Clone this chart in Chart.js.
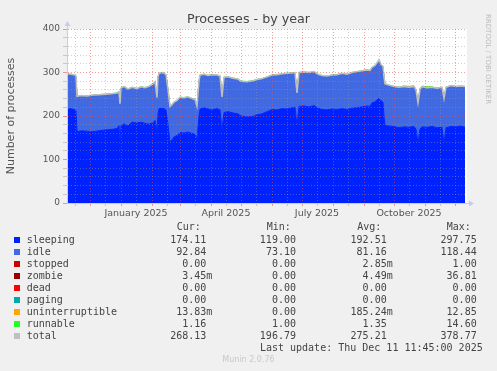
<!DOCTYPE html>
<html><head><meta charset="utf-8">
<script src="https://cdn.jsdelivr.net/npm/chart.js@4.4.1/dist/chart.umd.min.js"></script>
<style>
html,body{margin:0;padding:0;background:#f0f0f0;}
#wrap{position:relative;width:497px;height:371px;overflow:hidden;background:#f0f0f0;}
#c{position:absolute;left:0;top:0;}
.t{position:absolute;font-family:'DejaVu Sans Mono',monospace;font-size:10px;line-height:12px;color:#444;white-space:pre;}
.sq{position:absolute;width:6px;height:6px;}
</style></head><body>
<div id="wrap"><canvas id="c" width="497" height="371"></canvas></div>
<script>
// x values: days since 8 Nov 2024
const days = [
  0,4,8,9,10,14,20,26,32,38,
  44,50,52,53,54,57,61,65,70,74,
  78,82,86,88,90,91,92,96,99,101,
  103,105,107,110,113,117,121,125,128,130,
  132,133,137,141,145,150,153,155,157,161,
  166,171,174,180,186,190,195,200,205,210,
  215,220,225,228,230,232,237,242,247,251,
  255,260,265,270,275,280,285,290,295,300,
  303,305,308,310,312,314,316,317,318,322,
  327,332,337,342,347,349,351,353,355,360,
  365,370,375,377,379,384,389,394,398
];
const sleeping = [
  215,217,214,213,164,166,165,164,166,168,
  169,171,178,145,178,182,177,186,184,186,
  183,181,185,190,168,205,217,218,214,180,
  140,145,152,155,162,161,163,160,158,146,
  200,216,219,216,214,217,214,168,208,210,
  207,205,200,198,199,203,205,210,215,214,
  217,216,219,220,179,222,223,221,224,218,
  215,214,216,215,217,215,218,219,221,223,
  222,230,233,237,241,235,232,200,178,177,
  176,173,175,174,176,170,138,170,175,174,
  176,173,174,138,173,176,175,177,174
];
const idle = [
  81,78,79,78,80,80,80,83,82,81,
  81,81,77,82,85,85,84,79,78,80,
  81,86,88,88,73,84,80,81,80,79,
  81,80,79,80,80,80,80,79,79,75,
  79,77,76,76,80,76,77,75,80,79,
  79,79,79,80,81,80,80,79,78,80,
  79,81,79,79,73,77,77,78,77,77,
  77,77,77,79,80,80,81,82,82,82,
  82,81,82,84,87,82,81,89,95,93,
  91,92,92,91,91,89,91,91,91,90,
  89,90,91,101,92,93,92,91,93
];
const uninterruptible = [
  0,0,0,0,0,0,0,0,0,0,
  0,0,0,0,0,0,0,0,0,0,
  0,0,0,0,0,0,0,0,0,0,
  0,0,0,0,0,0,0,0,0,0,
  0,0,0,0,0,0,0,0,0,0,
  0,0,0,0,0,0,0,0,0,0,
  0,0,0,0,0,0,0,0,0,0,
  0,0,0,0,0,0,0,0,0,0,
  0,0,0,0,0,0,0,0,0,0,
  0,0.3,1.0,2.0,1.2,0.5,0.3,0.8,1.5,2.0,
  1.0,0.3,0,0,0,0,0,0,0
];
const runnable = [
  1.3,1.2,1.2,1.3,1.4,1.2,1.3,1.2,1.3,1.4,
  1.3,1.2,1.5,1.3,1.4,1.3,1.2,1.3,1.4,1.3,
  1.5,1.3,1.4,1.3,1.2,1.4,1.5,1.4,1.3,1.2,
  1.3,1.4,1.3,1.2,1.3,1.4,1.3,1.2,1.3,1.4,
  1.3,1.4,1.5,1.3,1.2,1.3,1.4,1.3,1.2,1.3,
  1.4,1.3,1.2,1.3,1.4,1.3,1.2,1.4,1.3,1.5,
  1.4,1.3,1.2,1.3,1.4,1.3,1.5,1.3,1.4,1.3,
  1.2,1.3,1.4,1.3,1.2,1.3,1.4,1.5,1.3,1.4,
  1.3,1.4,1.5,1.6,1.4,1.3,1.2,1.3,1.2,1.3,
  1.2,1.3,1.2,1.2,1.3,1.2,1.1,1.2,1.2,1.3,
  1.2,1.1,1.2,1.2,1.3,1.2,1.2,1.1,1.16
];
const total = [
  297,296,294,292,245,247,246,248,249,250,
  251,253,256,228,264,268,262,266,263,267,
  265,268,274,279,242,290,298,300,295,260,
  222,226,232,236,243,242,244,240,238,222,
  280,294,296,293,295,294,292,244,289,290,
  287,285,280,279,281,284,286,290,294,295,
  297,298,299,300,253,300,301,300,302,296,
  293,292,294,295,298,296,300,302,304,306,
  305,312,316,322,329,318,314,290,274,271,
  268,266,268,266,268,260,230,262,267,265,
  266,264,266,240,266,270,268,269,268
];
// axis ticks (days since 8 Nov 2024)
const monthStartDays = [23,54,85,113,144,174,205,235,266,297,327,358,388];
const midMonthDays = [8,38,69,100,128,159,189,220,250,281,312,342,373];
const monthLabelDays = [69,159,250,342];
const monthLabels = ['January 2025','April 2025','July 2025','October 2025'];
const yMajorStep = 100;
// legend table
const legendNames = ['sleeping','idle','stopped','zombie','dead','paging','uninterruptible','runnable','total'];
const legendColors = ['#0022ff','#4169e1','#cc0000','#990000','#ff0000','#00aaaa','#ffa500','#22ff22','#c0c0c0'];
const curVals = ['174.11 ','92.84 ','0.00 ','3.45m','0.00 ','0.00 ','13.83m','1.16 ','268.13 '];
const minVals = ['119.00 ','73.10 ','0.00 ','0.00 ','0.00 ','0.00 ','0.00 ','1.00 ','196.79 '];
const avgVals = ['192.51 ','81.16 ','2.85m','4.49m','0.00 ','0.00 ','185.24m','1.35 ','275.21 '];
const maxVals = ['297.75 ','118.44 ','1.00 ','36.81 ','0.00 ','0.00 ','12.85 ','14.60 ','378.77 '];

Chart.defaults.font.family = "'DejaVu Sans', sans-serif";
const RED = 'rgba(228,80,80,0.55)';
const GRAY = 'rgba(150,150,150,0.45)';
const AXIS = '#c4ccf4';

const pts = arr => days.map((d, i) => ({x: d, y: arr[i]}));
const allXTicks = monthStartDays.concat(midMonthDays).sort((a, b) => a - b);

const bgPlugin = {
  id: 'bg',
  beforeDraw(chart) {
    const {ctx, chartArea: a} = chart;
    ctx.save();
    ctx.fillStyle = '#ffffff';
    ctx.fillRect(a.left, a.top, a.right - a.left, a.bottom - a.top);
    ctx.restore();
  },
  afterDraw(chart) {
    const {ctx, chartArea: a} = chart;
    ctx.save();
    ctx.strokeStyle = AXIS; ctx.fillStyle = AXIS; ctx.lineWidth = 1;
    ctx.beginPath(); ctx.moveTo(a.left + 0.5, a.top); ctx.lineTo(a.left + 0.5, a.top - 4); ctx.stroke();
    ctx.beginPath(); ctx.moveTo(a.left + 0.5, a.top - 8); ctx.lineTo(a.left - 2.5, a.top - 3); ctx.lineTo(a.left + 3.5, a.top - 3); ctx.closePath(); ctx.fill();
    ctx.beginPath(); ctx.moveTo(a.right, a.bottom + 0.5); ctx.lineTo(a.right + 2, a.bottom + 0.5); ctx.stroke();
    ctx.beginPath(); ctx.moveTo(a.right + 7, a.bottom + 0.5); ctx.lineTo(a.right + 2, a.bottom - 2.5); ctx.lineTo(a.right + 2, a.bottom + 3.5); ctx.closePath(); ctx.fill();
    ctx.restore();
  }
};

const area = (label, arr, color, fill) => ({
  label, data: pts(arr), backgroundColor: color, borderColor: color,
  borderWidth: 1, fill, pointRadius: 0, tension: 0
});

new Chart(document.getElementById('c'), {
  type: 'line',
  data: {
    datasets: [
      area('sleeping', sleeping, '#0022ff', 'origin'),
      area('idle', idle, '#4169e1', '-1'),
      area('uninterruptible', uninterruptible, '#ffa500', '-1'),
      area('runnable', runnable, '#22ff22', '-1'),
      {label: 'total', data: pts(total), stack: 'tot', order: -1, borderColor: '#c0c0c0',
       borderWidth: 1.5, fill: false, pointRadius: 0, tension: 0}
    ]
  },
  options: {
    responsive: false, animation: false,
    layout: {padding: {left: 0, right: 30, top: 29, bottom: 148}},
    plugins: {legend: {display: false}, tooltip: {enabled: false}, title: {display: false}},
    scales: {
      x: {
        type: 'linear', min: 0, max: 400,
        afterBuildTicks: s => { s.ticks = allXTicks.map(v => ({value: v})); },
        afterFit: s => { s.height = 20; },
        ticks: {autoSkip: false, maxRotation: 0, padding: 2, color: '#555', font: {size: 9.5},
                callback: v => { const k = monthLabelDays.indexOf(v); return k >= 0 ? monthLabels[k] : ''; }},
        grid: {z: 1, tickLength: 3, color: c => (c.tick && monthStartDays.includes(c.tick.value)) ? RED : GRAY},
        border: {z: 2, color: AXIS, dash: [1, 2]}
      },
      y: {
        stacked: true, min: 0, max: 400,
        afterFit: s => { s.width = 67; },
        ticks: {stepSize: 20, autoSkip: false, padding: 3, color: '#555', font: {size: 9},
                callback: v => (v % yMajorStep === 0 ? v : '')},
        grid: {z: 1, tickLength: 4, color: c => (c.tick && c.tick.value % yMajorStep === 0) ? RED : GRAY},
        border: {z: 2, color: AXIS, dash: [1, 2]},
        title: {display: true, text: 'Number of processes', color: '#555', font: {size: 11}, padding: {top: 4.4, bottom: 0}}
      }
    }
  },
  plugins: [bgPlugin]
});

// title, legend and comments as HTML text
const wrap = document.getElementById('wrap');
function put(text, style, cls) {
  const d = document.createElement('div');
  d.className = cls || 't';
  d.textContent = text;
  Object.assign(d.style, style);
  wrap.appendChild(d);
  return d;
}
put('Processes - by year', {left: '0px', width: '497px', textAlign: 'center', top: '11px',
  fontFamily: "'DejaVu Sans', sans-serif", fontSize: '12.7px', lineHeight: '15px', color: '#444'});
put('Cur:', {left: '176.7px', top: '221px'});
put('Min:', {left: '266.7px', top: '221px'});
put('Avg:', {left: '357.3px', top: '221px'});
put('Max:', {left: '446.7px', top: '221px'});
legendNames.forEach((n, i) => {
  const cy = 239.5 + 12 * i;
  put('', {left: '14px', top: (cy - 3) + 'px', background: legendColors[i]}, 'sq');
  put(n, {left: '26.7px', top: (cy - 6) + 'px'});
  put(curVals[i], {right: '284.7px', top: (cy - 6) + 'px'});
  put(minVals[i], {right: '195px', top: (cy - 6) + 'px'});
  put(avgVals[i], {right: '104.3px', top: (cy - 6) + 'px'});
  put(maxVals[i], {right: '14.3px', top: (cy - 6) + 'px'});
});
put('Last update: Thu Dec 11 11:45:00 2025', {right: '14.3px', top: '341.5px'});
put('Munin 2.0.76', {left: '0px', width: '497px', textAlign: 'center', top: '355px',
  fontFamily: "'DejaVu Sans', sans-serif", fontSize: '8px', lineHeight: '10px', color: '#c8c8c8'});
put('RRDTOOL / TOBI OETIKER', {left: '483px', top: '14px', writingMode: 'vertical-rl',
  fontFamily: "'DejaVu Sans', sans-serif", fontSize: '7px', lineHeight: '9px', color: '#bbbbbb'});
</script>
</body></html>
